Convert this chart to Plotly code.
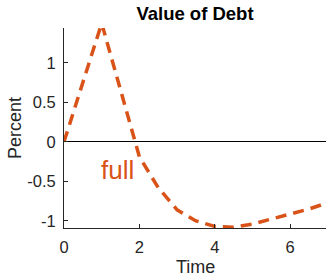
import plotly.graph_objects as go

# Data
time = [0, 1, 2, 2.5, 3, 3.5, 4, 4.5, 5, 5.5, 6, 6.5, 7]
debt_value = [0, 1.5, -0.19, -0.58, -0.86, -1.0, -1.07, -1.08, -1.04, -0.98, -0.92, -0.85, -0.77]
x_ticks = [0, 2, 4, 6]
y_ticks = [-1, -0.5, 0, 0.5, 1]
y_tick_labels = ["-1", "-0.5", "0", "0.5", "1"]
series_label = "full"
label_pos = (1.43, -0.35)

ORANGE = "#D95319"
AX = "#262626"
FONT = "Liberation Sans, Arial, sans-serif"

fig = go.Figure()
fig.add_trace(go.Scatter(
    x=time, y=debt_value, mode="lines",
    line=dict(color=ORANGE, width=3.5, dash="11px,7px"),
    showlegend=False, hoverinfo="skip",
))

fig.add_annotation(
    x=label_pos[0], y=label_pos[1], xref="x", yref="y",
    text=series_label, showarrow=False,
    font=dict(family=FONT, size=26, color=ORANGE),
)
# axis titles
fig.add_annotation(
    x=(15 - 64) / 262, y=0.5, xref="paper", yref="paper",
    text="Percent", textangle=-90, showarrow=False,
    xanchor="center", yanchor="middle",
    font=dict(family=FONT, size=18, color=AX),
)
fig.add_annotation(
    x=0.5, y=(228 - 267) / 200, xref="paper", yref="paper",
    text="Time", showarrow=False, xanchor="center", yanchor="middle",
    font=dict(family=FONT, size=18, color=AX),
)

fig.update_layout(
    width=326, height=277,
    margin=dict(l=64, r=0, t=28, b=49),
    paper_bgcolor="white", plot_bgcolor="white",
    font=dict(family=FONT, color=AX),
    title=dict(
        text="Value of Debt", x=0.5, xanchor="center",
        xref="paper", y=1 - 13.5 / 277, yref="container", yanchor="middle",
        font=dict(family=FONT, size=18.5, color="black", weight="bold"),
    ),
    xaxis=dict(
        range=[0, 6.95], tickvals=x_ticks, ticks="inside", ticklen=4,
        tickcolor=AX, tickwidth=1, showline=True, linecolor=AX, linewidth=1,
        showgrid=False, zeroline=False, mirror=False, automargin=False,
        tickfont=dict(family=FONT, size=16.5, color=AX),
        ticklabelstandoff=4,
    ),
    yaxis=dict(
        range=[-1.09, 1.44], tickvals=y_ticks, ticktext=y_tick_labels,
        ticks="inside", ticklen=4, tickcolor=AX, tickwidth=1,
        showline=True, linecolor=AX, linewidth=1, showgrid=False,
        zeroline=True, zerolinecolor="black", zerolinewidth=1, automargin=False,
        tickfont=dict(family=FONT, size=16.5, color=AX),
        ticklabelstandoff=4,
    ),
)

fig.write_html(
    "out.html",
    config={"displayModeBar": False},
    post_script="document.body.style.margin='0';document.body.style.overflow='hidden';",
)
